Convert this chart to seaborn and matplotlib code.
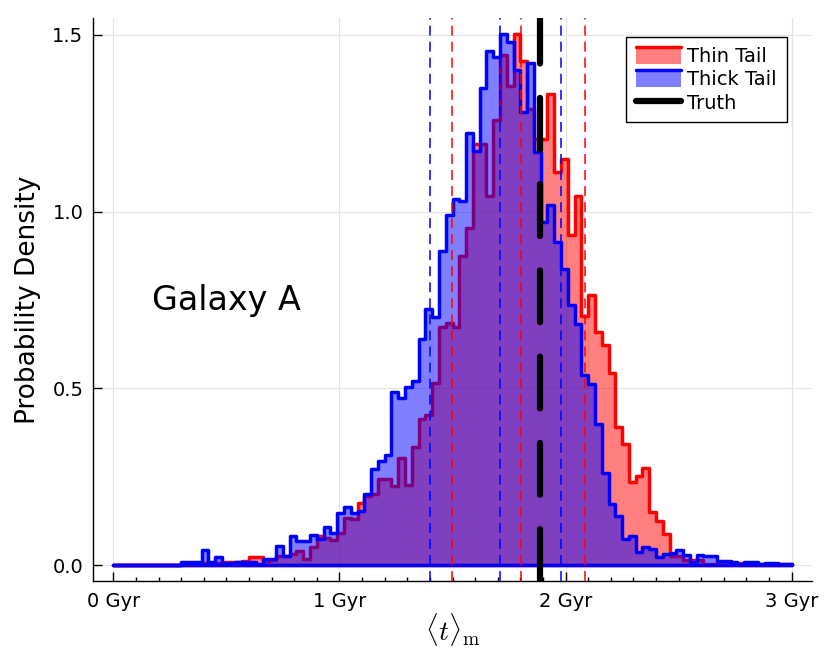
import numpy as np
import pandas as pd
import seaborn as sns
import matplotlib
matplotlib.use("Agg")
import matplotlib.pyplot as plt
from matplotlib.patches import Patch, Rectangle
from matplotlib.lines import Line2D
from matplotlib.legend_handler import HandlerBase
from matplotlib.colors import to_rgba
from matplotlib.ticker import MultipleLocator

# histogram heights (probability density), 100 bins of 0.03 Gyr from 0 to 3 Gyr
n_bins = 100
t_range = (0, 3)

thin_tail = [
    0, 0, 0, 0, 0, 0, 0, 0, 0, 0,
    0.005, 0.005, 0.005, 0.005, 0.005, 0.005, 0.01, 0.01, 0.01, 0.012,
    0.022, 0.022, 0.012, 0.015, 0.025, 0.025, 0.03, 0.04, 0.017, 0.05,
    0.082, 0.077, 0.07, 0.09, 0.132, 0.13, 0.177, 0.196, 0.2, 0.245,
    0.245, 0.224, 0.302, 0.226, 0.333, 0.413, 0.425, 0.515, 0.673, 0.685,
    0.673, 0.874, 0.955, 1.192, 1.192, 1.045, 1.258, 1.442, 1.357, 1.503,
    1.425, 1.29, 1.206, 1.206, 1.333, 1.111, 1.149, 0.935, 1.045, 0.706,
    0.763, 0.66, 0.624, 0.544, 0.39, 0.342, 0.234, 0.253, 0.274, 0.149,
    0.125, 0.088, 0.025, 0.025, 0.015, 0.015, 0.015, 0.003, 0.003, 0.003,
    0.005, 0.005, 0.005, 0.005, 0.005, 0.002, 0.002, 0.002, 0.002, 0.002,
]

thick_tail = [
    0, 0, 0, 0, 0, 0, 0, 0, 0, 0,
    0.01, 0.01, 0.01, 0.043, 0.01, 0.022, 0.005, 0.005, 0.01, 0.01,
    0.01, 0.003, 0.017, 0.017, 0.053, 0.025, 0.083, 0.067, 0.069, 0.085,
    0.075, 0.107, 0.09, 0.147, 0.163, 0.146, 0.152, 0.2, 0.272, 0.295,
    0.311, 0.49, 0.472, 0.505, 0.521, 0.64, 0.725, 0.703, 0.89, 0.99,
    1.037, 1.031, 1.223, 1.172, 1.35, 1.455, 1.438, 1.503, 1.48, 1.40,
    1.281, 1.42, 1.169, 0.97, 1.02, 0.915, 0.838, 0.737, 0.683, 0.539,
    0.512, 0.399, 0.26, 0.173, 0.14, 0.074, 0.081, 0.038, 0.05, 0.045,
    0.022, 0.031, 0.035, 0.043, 0.028, 0.008, 0.028, 0.025, 0.025, 0.012,
    0.012, 0.008, 0.003, 0.008, 0.01, 0.003, 0.005, 0.005, 0.002, 0.002,
]

# credible-interval / median markers (Gyr)
thin_lines = [1.497, 1.802, 2.086]
thick_lines = [1.401, 1.712, 1.978]
truth = 1.885

xtick_pos = [0, 1, 2, 3]
xtick_labels = ["0 Gyr", "1 Gyr", "2 Gyr", "3 Gyr"]
ytick_pos = [0.0, 0.5, 1.0, 1.5]

edges = np.linspace(t_range[0], t_range[1], n_bins + 1)
centers = (edges[:-1] + edges[1:]) / 2
df = pd.DataFrame({"t": centers, "thin": thin_tail, "thick": thick_tail})

sns.set_style("white")
plt.rcParams["font.family"] = ["DejaVu Sans"]
plt.rcParams["mathtext.fontset"] = "cm"
for k in ["text.color", "axes.labelcolor", "xtick.color", "ytick.color"]:
    plt.rcParams[k] = "black"

fig = plt.figure(figsize=(8.3, 6.64), dpi=100)
ax = fig.add_axes([93 / 830, 1 - 581 / 664, (812 - 93) / 830, (581 - 18) / 664])

sns.histplot(data=df, x="t", weights="thin", bins=n_bins, binrange=t_range,
             element="step", fill=True, color="red", alpha=0.5,
             linewidth=2.5, ax=ax, zorder=2)
sns.histplot(data=df, x="t", weights="thick", bins=n_bins, binrange=t_range,
             element="step", fill=True, color="blue", alpha=0.5,
             linewidth=2.5, ax=ax, zorder=3)

for v in thick_lines:
    ax.axvline(v, color="blue", lw=1.1, linestyle=(0, (6.5, 4)), zorder=4)
for v in thin_lines:
    ax.axvline(v, color="red", lw=1.1, linestyle=(0, (6.5, 4)), zorder=4)
ax.axvline(truth, color="black", lw=4.5, linestyle=(0, (8.3, 5.5)),
           dash_capstyle="round", zorder=5)

ax.set_xlim(-0.09, 3.09)
ax.set_ylim(-0.045, 1.548)
ax.set_xticks(xtick_pos)
ax.set_xticklabels(xtick_labels)
ax.set_yticks(ytick_pos)
ax.xaxis.set_minor_locator(MultipleLocator(0.1))
ax.tick_params(which="major", direction="in", length=6.5, width=1, labelsize=14,
               colors="black")
ax.tick_params(axis="x", which="major", pad=8)
ax.tick_params(axis="y", which="major", pad=7)
ax.tick_params(axis="x", which="minor", direction="in", length=3, width=1,
               bottom=True)
ax.xaxis.set_ticks_position("bottom")
ax.yaxis.set_ticks_position("left")

ax.grid(True, which="major", color="#e3e3e3", lw=0.8, zorder=0)
ax.set_axisbelow(True)
for s in ["top", "right"]:
    ax.spines[s].set_visible(False)
for s in ["left", "bottom"]:
    ax.spines[s].set_color("black")
    ax.spines[s].set_linewidth(1.0)

ax.set_ylabel("Probability Density", fontsize=19, labelpad=8)
ax.set_xlabel(r"$\langle t \rangle_{\mathrm{m}}$", fontsize=20, labelpad=0)
ax.text(0.5, 0.75, "Galaxy A", fontsize=24, ha="center", va="center",
        color="black")


class FillTopLine(HandlerBase):
    def __init__(self, color):
        super().__init__()
        self.color = color

    def create_artists(self, legend, orig_handle, xdescent, ydescent, width,
                       height, fontsize, trans):
        r = Rectangle((-xdescent, -ydescent), width, height,
                      facecolor=to_rgba(self.color, 0.5), edgecolor="none",
                      transform=trans)
        l = Line2D([-xdescent, -xdescent + width], [-ydescent + height] * 2,
                   color=self.color, lw=2.5, transform=trans)
        return [r, l]


h_thin = Patch(label="Thin Tail")
h_thick = Patch(label="Thick Tail")
h_truth = Line2D([], [], color="black", lw=4.5, solid_capstyle="round",
                 label="Truth")
leg = ax.legend(handles=[h_thin, h_thick, h_truth],
                handler_map={h_thin: FillTopLine("red"),
                             h_thick: FillTopLine("blue")},
                loc="upper right", bbox_to_anchor=(0.965, 0.966),
                borderaxespad=0, fontsize=14, fancybox=False, framealpha=1,
                edgecolor="black", handlelength=2.3, handleheight=0.95,
                labelspacing=0.22, handletextpad=0.35, borderpad=0.5)
leg.get_frame().set_linewidth(1.0)
leg.set_zorder(10)

fig.savefig("out.png", dpi=100)
